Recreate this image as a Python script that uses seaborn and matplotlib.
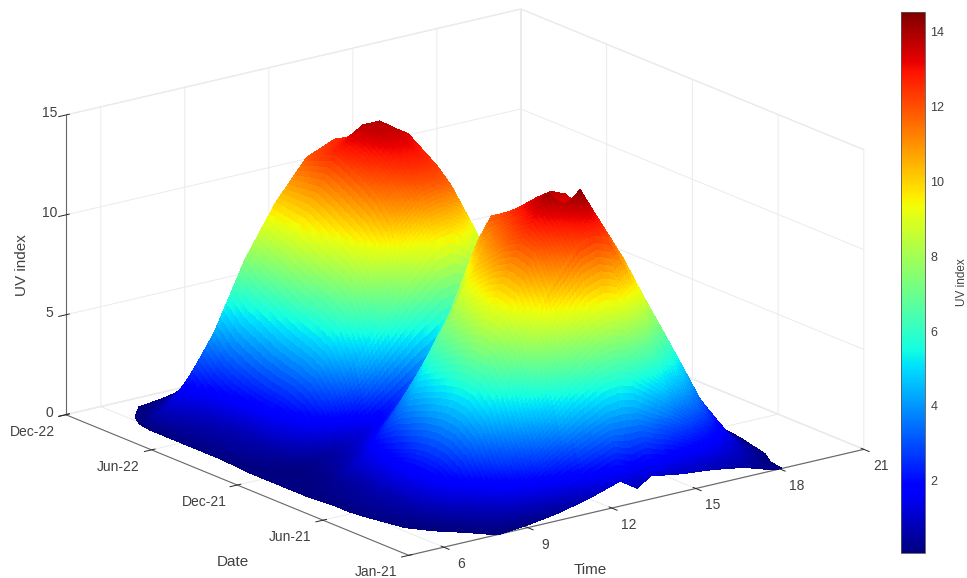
import numpy as np
import matplotlib
matplotlib.use("Agg")
import matplotlib.pyplot as plt
import seaborn as sns
from mpl_toolkits.mplot3d import proj3d

# Values
hours = [5.7, 6.9, 8, 9.1, 10.2, 11.3, 12.3, 12.9, 13.4, 14.5, 15.6, 16.7, 17.8, 18.8]
months = list(range(24))  # Jan-21 ... Dec-22
first_light = [7.9, 7.35, 6.7, 6.15, 5.94, 5.8, 5.7, 5.7, 5.7, 5.7, 5.7, 5.7,
               5.7, 5.7, 5.7, 5.7, 5.7, 5.7, 5.7, 5.7, 5.7, 5.85, 6.2, 6.85]
last_light = [18.08, 18.18, 18.5, 18.6, 18.7, 18.8, 18.8, 18.8, 18.8, 18.8, 18.8, 18.8,
              18.8, 18.8, 18.8, 18.8, 18.8, 18.8, 18.8, 18.8, 18.8, 18.8, 18.8, 18.8]
uv_index = [
    [0, 0, 0, .15, .4, .8, 1.25, .7, 1.15, .9, .75, .5, .02, 0],
    [0, .05, .6, 1.6, 2.7, 3.7, 4.4, 4.5, 4.3, 3.4, 2.3, 1.1, .25, 0],
    [0, .2, 1.2, 3, 5, 7, 8.2, 8.5, 8.3, 6.4, 4.3, 2.1, .5, 0],
    [.05, .5, 2.1, 4.7, 7.7, 10.4, 12.2, 12.5, 12.2, 9.3, 6.2, 3, .75, .05],
    [.1, .7, 2.5, 5.4, 8.8, 11.8, 13, 14.5, 13.2, 10.4, 7, 3.4, .9, .1],
    [.1, .7, 2.6, 5.5, 9, 12, 14.2, 13.2, 13.2, 10.4, 7.1, 3.4, .9, .1],
    [.1, .7, 2.5, 5.3, 8.6, 11.6, 13.5, 13.8, 13.5, 10.2, 6.9, 3.3, .85, .1],
    [.1, .6, 2.2, 5, 8, 10.9, 12.9, 13.2, 12.9, 9.8, 6.6, 3.2, .8, .1],
    [.05, .5, 1.9, 4.6, 7.5, 10.2, 12.3, 12.5, 12.2, 9.2, 6.2, 3, .75, .05],
    [0, .4, 1.6, 3.6, 6, 8.6, 11.9, 11.8, 11.4, 8.7, 5.8, 2.8, .7, 0],
    [0, .2, .9, 2.4, 4.4, 7, 10.3, 10.5, 10.2, 7.8, 5.2, 2.5, .6, 0],
    [0, .15, .6, 1.4, 2.6, 4, 5.6, 6, 5.9, 4.6, 3.1, 1.5, .4, 0],
    [0, .1, .5, 1.2, 2.2, 3.2, 3.9, 4, 3.9, 3, 2, 1, .25, 0],
    [0, .4, 1.6, 3.6, 5.9, 8, 9.5, 9.7, 9.2, 6.8, 4.6, 2.4, .6, 0],
    [.05, .6, 2.1, 4.8, 7.8, 10.5, 11.8, 12, 11.6, 8.4, 5.8, 2.9, .7, .05],
    [.1, .7, 2.4, 5.2, 8.5, 11.4, 12.5, 12.7, 12.3, 9, 6.2, 3, .8, .1],
    [.1, .7, 2.5, 5.5, 8.9, 11.9, 13.1, 13.2, 12.8, 9.6, 6.6, 3.2, .85, .1],
    [.1, .8, 2.7, 5.9, 9.4, 12.3, 13.6, 13.7, 13.3, 10, 6.9, 3.4, .9, .1],
    [.1, .9, 3, 6.4, 9.8, 12.6, 13.8, 13.8, 13.3, 10.2, 7, 3.4, .9, .1],
    [.1, 1.2, 3.4, 6.8, 9.9, 12.3, 12.9, 12.9, 12.6, 10, 6.6, 3.2, .8, .1],
    [.1, 1.8, 4.2, 7.5, 10, 11.9, 12.5, 12.4, 12, 9.3, 6.2, 3, .75, .05],
    [.05, .8, 2, 3.8, 5.6, 7, 7.9, 8, 7.9, 6.2, 4.1, 2, .5, 0],
    [0, .2, .9, 1.8, 2.6, 3.2, 3.4, 3.5, 3.4, 2.6, 1.8, .9, .2, 0],
    [0, 0, .2, .5, .9, 1.3, 1.5, 1.5, 1.5, 1.2, .8, .4, .05, 0],
]
time_ticks = [6, 9, 12, 15, 18, 21]
date_ticks = [0, 6, 12, 18, 24]
date_labels = ['Jan-21', 'Jun-21', 'Dec-21', 'Jun-22', 'Dec-22']
uv_ticks = [0, 5, 10, 15]
bar_ticks = [2, 4, 6, 8, 10, 12, 14]

W, H = 967, 578
TEXT = '#404040'
sns.set_theme(style='white', font='Liberation Sans')
jet = plt.get_cmap('jet')  # seaborn refuses to hand this one out


def shade_mesh(a, k_rows=12, k_cols=10):
    # split each facet so the colour runs smoothly across it, like MATLAB's "shading interp"
    for axis, k in ((0, k_rows), (1, k_cols)):
        n = a.shape[axis]
        idx = np.linspace(0, n - 1, (n - 1) * k + 1)
        a = np.apply_along_axis(lambda r: np.interp(idx, np.arange(n), r), axis, a)
    return a


Y, X = np.meshgrid(months, hours, indexing='ij')
X = np.clip(X, np.array(first_light)[:, None], np.array(last_light)[:, None]).astype(float)

fig = plt.figure(figsize=(W / 100, H / 100), dpi=100)
S = 800
ax = fig.add_axes([(454 - S / 2) / W, 1 - (293 + S / 2) / H, S / W, S / H],
                  projection='3d', proj_type='ortho')
ax.view_init(elev=18, azim=-127)
ax.set_box_aspect((1, 1, 0.553), zoom=1.05)

surf = ax.plot_surface(shade_mesh(X), shade_mesh(Y.astype(float)), shade_mesh(np.array(uv_index)),
                       cmap=jet, vmin=0.07, vmax=14.53, rstride=1, cstride=1,
                       linewidth=0, antialiased=False, shade=False)

XMIN = 4.75
ax.set_xlim(XMIN, 21, view_margin=0)
ax.set_ylim(0, 24, view_margin=0)
ax.set_zlim(0, 15, view_margin=0)
ax.set_xticks(time_ticks)
ax.set_yticks(date_ticks)
ax.set_zticks(uv_ticks)
ax.set_xticklabels([])
ax.set_yticklabels([])
ax.set_zticklabels([])
ax.zaxis.set_ticks_position('upper')

for axis in (ax.xaxis, ax.yaxis, ax.zaxis):
    axis.set_pane_color((1, 1, 1, 1))
    axis.pane.set_edgecolor('#ececec')
    axis.line.set_color('#666666')
    axis.line.set_linewidth(0.8)
    axis._axinfo['grid']['color'] = '#ebebeb'
    axis._axinfo['grid']['linewidth'] = 0.7
    axis._axinfo['tick']['color'] = '#666666'
    axis._axinfo['tick']['linewidth'] = {True: 0.7, False: 0.5}
ax.grid(True)


def tick_text(label, x, y, z, dx, dy):
    # place a label a few pixels off its tick, at the spot the 3D axes project it to
    px, py, _ = proj3d.proj_transform(x, y, z, ax.get_proj())
    ax.annotate(label, (px, py), xytext=(dx, dy), textcoords='offset pixels',
                ha='center', va='center', fontsize=10, color=TEXT, annotation_clip=False)


for t in time_ticks:
    tick_text(str(t), t, 0, 0, 17, -17)
for d, lab in zip(date_ticks, date_labels):
    tick_text(lab, XMIN, d, 0, -33, -17)
for u in uv_ticks:
    tick_text(str(u), XMIN, 24, u, -16, 2)

fig.text(590 / W, 1 - 570 / H, 'Time', fontsize=11, color=TEXT, ha='center', va='center')
fig.text(233 / W, 1 - 562 / H, 'Date', fontsize=11, color=TEXT, ha='center', va='center')
fig.text(22 / W, 1 - 265 / H, 'UV index', fontsize=11, color=TEXT, ha='center', va='center', rotation=90)

cax = fig.add_axes([901 / W, 1 - 553 / H, 24 / W, 541 / H])
cbar = fig.colorbar(surf, cax=cax, ticks=bar_ticks)
cbar.ax.tick_params(labelsize=9, colors=TEXT, length=3, width=0.6, direction='in', pad=4)
cbar.outline.set_edgecolor('#555555')
cbar.outline.set_linewidth(0.6)
cbar.set_label('UV index', fontsize=8.5, color=TEXT, labelpad=8)

fig.savefig('out.png', dpi=100)
